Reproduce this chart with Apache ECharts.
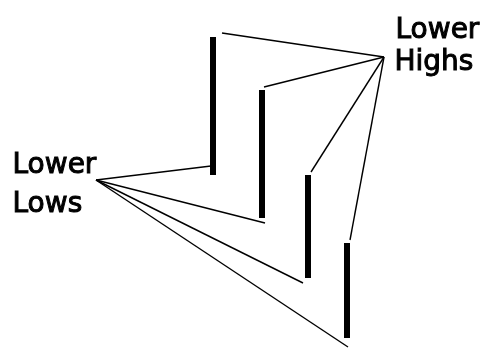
<!DOCTYPE html>
<html>
<head>
<meta charset="utf-8">
<script src="https://cdn.jsdelivr.net/npm/echarts@6/dist/echarts.min.js"></script>
<style>
  html, body { margin: 0; padding: 0; background: #fff; }
  #chart { width: 491px; height: 348px; }
</style>
</head>
<body>
<div id="chart"></div>
<script>
// bar positions and price range of each bar (high / low)
var barX = [213, 262, 308, 347];
var barHigh = [311, 258, 173, 105];
var barLow = [173, 130, 70, 10];

// where the connector lines meet each bar
var highEndX = [222, 264, 311, 350];
var highEndY = [315, 261, 176, 108];
var lowEndX = [211, 265, 303, 348];
var lowEndY = [182, 125, 65, 1];

// anchor points of the two labels
var highsAnchor = [384, 291];
var lowsAnchor = [96, 168];

var bars = barX.map(function (x, i) { return [x, barHigh[i], barLow[i]]; });
var highLines = highEndX.map(function (x, i) {
  return { coords: [highsAnchor, [x, highEndY[i]]] };
});
var lowLines = lowEndX.map(function (x, i) {
  return { coords: [lowsAnchor, [x, lowEndY[i]]] };
});

var myChart = echarts.init(document.getElementById('chart'));

var labelFont = {
  fontFamily: 'DejaVu Sans',
  fontSize: 28,
  fill: '#000',
  stroke: '#000',
  lineWidth: 1
};

myChart.setOption({
  animation: false,
  backgroundColor: '#fff',
  grid: { left: 0, right: 0, top: 0, bottom: 0 },
  xAxis: { type: 'value', min: 0, max: 491, show: false },
  yAxis: { type: 'value', min: 0, max: 348, show: false },
  series: [
    {
      type: 'lines',
      coordinateSystem: 'cartesian2d',
      silent: true,
      lineStyle: { color: '#000', width: 1.4, opacity: 1 },
      data: highLines.concat(lowLines)
    },
    {
      type: 'custom',
      silent: true,
      data: bars,
      renderItem: function (params, api) {
        var top = api.coord([api.value(0), api.value(1)]);
        var bottom = api.coord([api.value(0), api.value(2)]);
        return {
          type: 'rect',
          shape: { x: top[0] - 3, y: top[1], width: 6, height: bottom[1] - top[1] },
          style: { fill: '#000' }
        };
      }
    }
  ],
  graphic: [
    { type: 'text', left: 395, top: 16, style: Object.assign({ text: 'Lower' }, labelFont) },
    { type: 'text', left: 394, top: 48, style: Object.assign({ text: 'Highs' }, labelFont) },
    { type: 'text', left: 12, top: 151, style: Object.assign({ text: 'Lower' }, labelFont) },
    { type: 'text', left: 12, top: 190, style: Object.assign({ text: 'Lows' }, labelFont) }
  ]
});
</script>
</body>
</html>
